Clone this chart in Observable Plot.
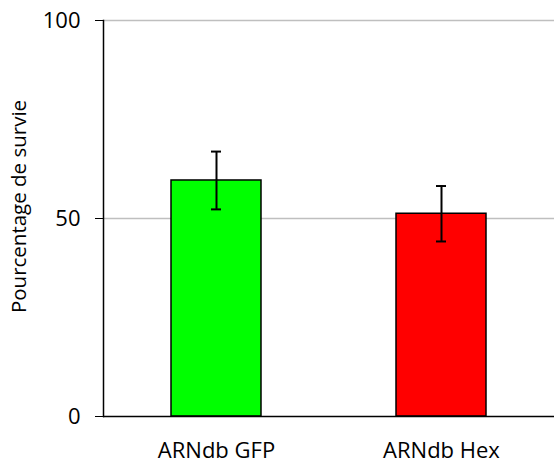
<!DOCTYPE html>
<html>
<head>
<meta charset="utf-8">
<script src="https://cdn.jsdelivr.net/npm/d3@7"></script>
<script src="https://cdn.jsdelivr.net/npm/@observablehq/plot@0.6"></script>
<style>
  html, body { margin: 0; padding: 0; background: #fff; }
  #chart svg { display: block; }
</style>
</head>
<body>
<div id="chart"></div>
<script>
const categories = ["ARNdb GFP", "ARNdb Hex"];
const values = [59.6, 51.2];
const errors = [7.3, 7.0];
const colors = ["#00ff00", "#ff0000"];
const yTicks = [0, 50, 100];
const gridValues = [50, 100];
const yLabel = "Pourcentage de survie";

const data = categories.map((c, i) => ({
  cat: c, value: values[i], lo: values[i] - errors[i], hi: values[i] + errors[i], color: colors[i]
}));

const chart = Plot.plot({
  width: 554,
  height: 464,
  marginLeft: 103,
  marginRight: 0,
  marginTop: 20,
  marginBottom: 48,
  style: { fontFamily: "'Open Sans', sans-serif", fontSize: "22px", color: "#000", background: "#fff" },
  x: { domain: categories, paddingInner: 0.6, paddingOuter: 0.3, label: null },
  y: { domain: [0, 100], label: null },
  marks: [
    Plot.ruleY(gridValues, { stroke: "#bfbfbf", strokeWidth: 1.5 }),
    Plot.barY(data, { x: "cat", y: "value", fill: "color", stroke: "#000", strokeWidth: 1.5 }),
    Plot.ruleX(data, { x: "cat", y1: "lo", y2: "hi", stroke: "#000", strokeWidth: 2 }),
    Plot.tickY(data, { x: "cat", y: "lo", stroke: "#000", strokeWidth: 2, insetLeft: 40, insetRight: 40 }),
    Plot.tickY(data, { x: "cat", y: "hi", stroke: "#000", strokeWidth: 2, insetLeft: 40, insetRight: 40 }),
    Plot.frame({ anchor: "left", stroke: "#000", strokeWidth: 1.5 }),
    Plot.ruleY([0], { stroke: "#000", strokeWidth: 1.5 }),
    Plot.axisY({ ticks: yTicks, tickSize: 8, tickPadding: 15, tickFormat: d => String(d), label: null, fontSize: 22 }),
    Plot.axisX({ tickSize: 0, tickPadding: 26, label: null, fontSize: 22 }),
    Plot.text([yLabel], { frameAnchor: "left", dx: -84, dy: -12, rotate: -90, text: d => d, fontSize: 20.5, textAnchor: "middle" })
  ]
});
document.getElementById("chart").appendChild(chart);
</script>
</body>
</html>
